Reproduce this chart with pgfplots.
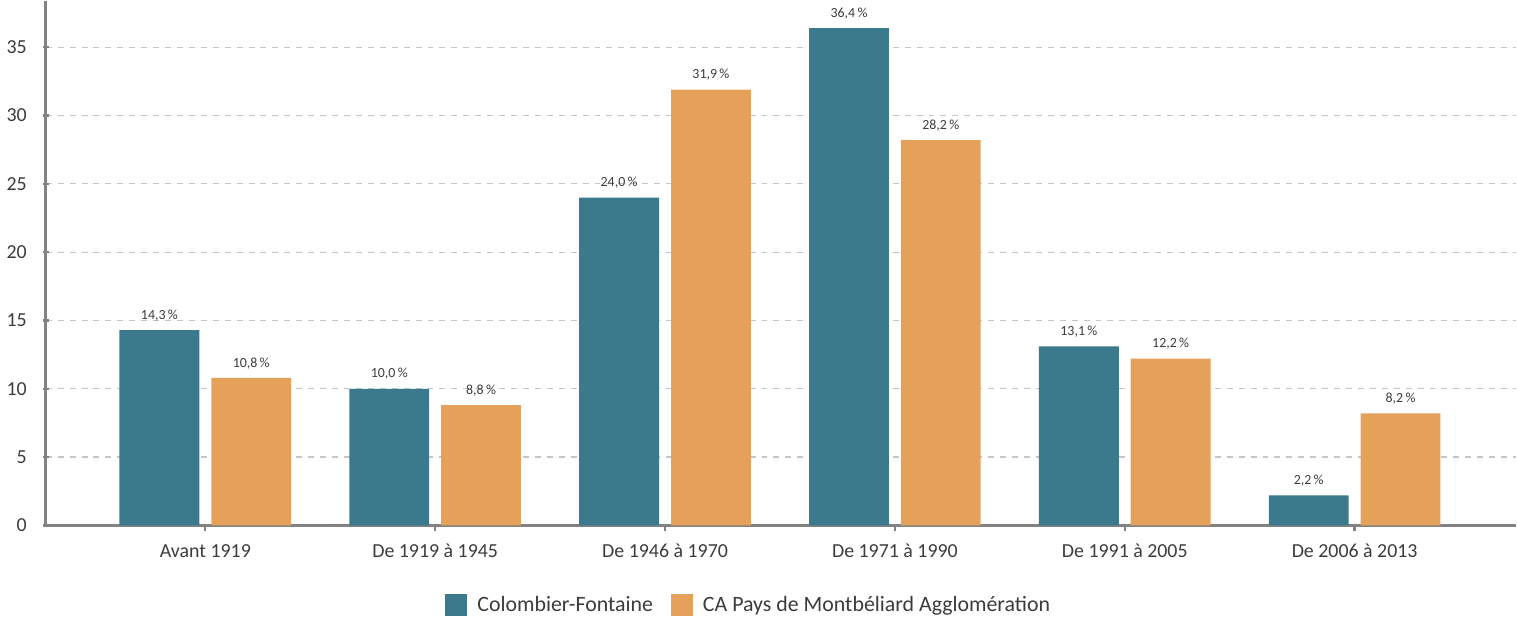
\documentclass[border=0pt]{standalone}
\usepackage{pgfplots}
\pgfplotsset{compat=1.18}
\usepackage{fontspec}
\setmainfont{Carlito}
\definecolor{tealbar}{RGB}{58,122,140}
\definecolor{orangebar}{RGB}{229,160,90}
\definecolor{axgray}{RGB}{130,130,130}
\definecolor{txtgray}{RGB}{60,60,60}
\begin{document}
\begin{tikzpicture}
\begin{axis}[
  scale only axis,
  width=736.5bp, height=262.5bp,
  xmin=-0.694, xmax=5.70,
  ymin=0, ymax=38.35,
  axis x line=bottom, axis y line=left,
  axis line style={-, axgray, line width=1.5bp},
  ybar=6bp, bar width=40bp,
  xtick={0,1,2,3,4,5},
  xticklabels={Avant 1919, De 1919 à 1945, De 1946 à 1970, De 1971 à 1990, De 1991 à 2005, De 2006 à 2013},
  ytick={0,5,...,35},
  ymajorgrids, grid style={dashed, gray!45, line width=0.6bp},
  major tick length=3bp,
  tick style={axgray, line width=1.2bp},
  tick label style={font=\fontsize{10}{11}\selectfont, text=txtgray},
  /pgf/number format/assume math mode=true,
  xticklabel style={yshift=-3bp},
  yticklabel style={xshift=-4.5bp},
  nodes near coords={\pgfmathprintnumber[fixed, fixed zerofill, precision=1, use comma]{\pgfplotspointmeta}\,\%},
  nodes near coords style={font=\fontsize{7}{8}\selectfont, text=txtgray, anchor=south, yshift=1bp},
  legend style={at={(0.479,-0.152)}, anchor=center, draw=none, legend columns=2,
    font=\fontsize{11}{12}\selectfont, text=txtgray,
    /tikz/every odd column/.append style={column sep=3bp},
    /tikz/every even column/.append style={column sep=7bp}},
  legend image code/.code={\fill[#1] (0bp,-5.5bp) rectangle (11bp,5.5bp);},
]
\addplot[fill=tealbar, draw=none] coordinates {(0,14.3) (1,10.0) (2,24.0) (3,36.4) (4,13.1) (5,2.2)};
\addplot[fill=orangebar, draw=none] coordinates {(0,10.8) (1,8.8) (2,31.9) (3,28.2) (4,12.2) (5,8.2)};
\legend{Colombier-Fontaine, CA Pays de Montbéliard Agglomération}
\end{axis}
\end{tikzpicture}
\end{document}
